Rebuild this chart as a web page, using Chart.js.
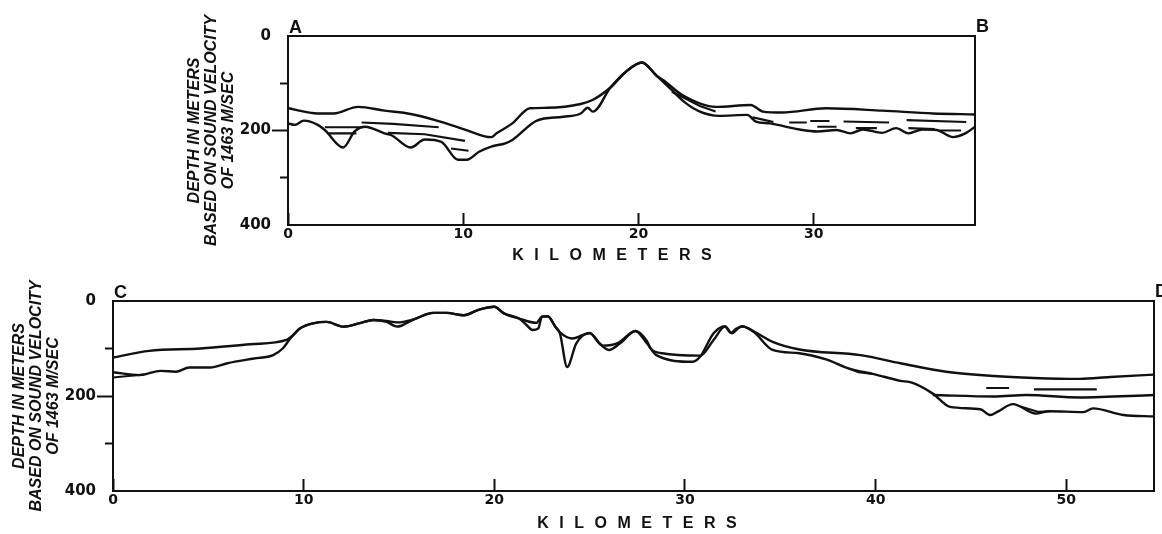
<!DOCTYPE html>
<html>
<head>
<meta charset="utf-8">
<script src="https://cdn.jsdelivr.net/npm/chart.js@4.4.1/dist/chart.umd.min.js"></script>
<style>
  html, body { margin: 0; padding: 0; background: #fff; }
  #wrap { position: relative; width: 1162px; height: 534px; overflow: hidden; }
  canvas { position: absolute; left: 0; }
  #chartAB { top: 0; }
  #chartCD { top: 262px; }
</style>
</head>
<body>
<div id="wrap">
  <canvas id="chartAB" width="1162" height="262"></canvas>
  <canvas id="chartCD" width="1162" height="272"></canvas>
</div>
<script>
// Eixos
const yTitleLines = ['DEPTH IN METERS', 'BASED ON SOUND VELOCITY', 'OF 1463 M/SEC'];
const xTitle = 'KILOMETERS';
const depthMajorTicks = [0, 200, 400];
const depthMinorTicks = [100, 300];
const abKmTicks = [0, 10, 20, 30];
const cdKmTicks = [0, 10, 20, 30, 40, 50];
const abKmMax = 39.2;
const cdKmMax = 54.6;

// Perfil A-B (km, profundidade em m)
const abUpperKm = [0, 1.7, 2.6, 4.0, 5.5, 7.0, 8.4, 10.1, 11.6, 11.9, 12.8, 13.8, 14.8, 16.7, 17.4, 18.4, 19.3, 20.2, 21.0, 21.4, 22.5, 24.4, 26.4, 27.1, 28.2, 30.7, 33.9, 36.8, 39.2];
const abUpperDepth = [153, 164, 164, 150, 158, 165, 178, 198, 214, 206, 185, 153, 152, 144, 135, 109, 75, 56, 83, 93, 125, 150, 146, 160, 162, 153, 158, 164, 166];

const abLowerKm = [0, 0.4, 0.9, 1.7, 2.1, 3.15, 3.8, 4.4, 5.5, 5.9, 7.0, 7.8, 8.75, 9.7, 10.2, 10.9, 11.6, 12.4, 12.8, 14.2, 15.7, 16.7, 17.1, 17.4, 18.4, 19.3, 20.2, 21.0, 21.8, 22.7, 23.5, 24.6, 26.2, 26.7, 27.5, 29.2, 30.2, 31.3, 32.1, 32.8, 33.9, 34.7, 35.4, 36.2, 37.0, 37.95, 38.7, 39.2];
const abLowerDepth = [185, 188, 179, 188, 199, 236, 202, 192, 206, 210, 236, 219, 224, 262, 262, 245, 234, 227, 220, 179, 171, 164, 152, 160, 109, 75, 56, 83, 111, 142, 160, 169, 167, 181, 185, 198, 202, 199, 206, 198, 205, 195, 206, 198, 199, 214, 205, 192];

// refletores curtos (null = interrupção)
const abReflector1Km = [2.1, 4.3, null, 4.2, 6.0, 8.6, null, 28.6, 29.6, null, 29.8, 30.9, null, 31.7, 34.3, null, 35.3, 38.7];
const abReflector1Depth = [193, 193, null, 183, 186, 193, null, 183, 183, null, 180, 180, null, 181, 183, null, 178, 182];
const abReflector2Km = [2.3, 3.9, null, 5.7, 7.8, 10.1, null, 9.3, 10.3, null, 30.2, 31.3, null, 32.4, 33.6, null, 35.4, 36.9, null, 37.2, 38.4];
const abReflector2Depth = [206, 206, null, 205, 208, 222, null, 238, 243, null, 192, 192, null, 195, 195, null, 195, 197, null, 200, 200];
const abLoopKm = [21.9, 22.4, 23.5, 24.4, null, 26.5, 27.1, 27.7];
const abLoopDepth = [118, 127, 148, 160, null, 172, 177, 182];

// Perfil C-D
const cdUpperKm = [0, 1.9, 4.6, 7.2, 9.1, 9.5, 9.8, 10.5, 11.2, 12.1, 13.0, 13.65, 14.35, 14.9, 15.75, 16.8, 17.5, 18.4, 19.2, 20.0, 20.5, 21.3, 22.2, 22.5, 22.8, 23.2, 23.44, 24.1, 25.0, 25.7, 26.5, 27.4, 28.0, 28.2, 28.8, 30.8, 31.5, 32.1, 32.4, 32.7, 33.05, 33.7, 34.6, 36.0, 39.2, 41.3, 43.7, 46.2, 48.3, 50.7, 52.3, 54.6];
const cdUpperDepth = [119, 105, 100, 91, 82, 70, 58, 47, 44, 54, 46, 40, 42, 45, 39, 25, 25, 30, 18, 12, 26, 37, 46, 33, 32, 54, 66, 79, 67, 94, 88, 63, 84, 100, 110, 115, 82, 54, 67, 58, 54, 66, 86, 102, 114, 131, 149, 158, 162, 164, 160, 155];

const cdLowerKm = [0, 1.4, 2.5, 3.3, 4.0, 5.1, 6.0, 7.4, 8.4, 8.9, 9.3, 9.8, 10.5, 11.2, 12.1, 13.0, 13.65, 14.35, 14.9, 15.75, 16.8, 17.5, 18.4, 19.2, 20.0, 20.5, 21.3, 21.7, 22.0, 22.3, 22.5, 22.8, 23.2, 23.44, 23.82, 24.3, 25.0, 25.5, 26.0, 26.6, 27.4, 28.0, 28.5, 30.4, 30.8, 31.5, 32.1, 32.45, 32.97, 33.6, 34.6, 36.0, 37.4, 38.65, 39.9, 41.3, 41.9, 43.0, 43.9, 45.5, 46.0, 46.4, 47.2, 48.4, 49.1, 50.9, 51.4, 53.0, 54.6];
const cdLowerDepth = [150, 156, 147, 149, 140, 140, 131, 121, 114, 100, 79, 58, 47, 44, 54, 46, 40, 44, 54, 39, 25, 25, 30, 18, 12, 26, 37, 51, 61, 58, 33, 32, 54, 68, 139, 89, 68, 89, 103, 89, 63, 89, 114, 128, 117, 68, 53, 68, 53, 65, 103, 110, 123, 143, 154, 168, 172, 195, 223, 228, 240, 233, 217, 237, 232, 234, 226, 240, 243];

const cdMiddleKm = [43.0, 46.2, 47.9, 50.7, 54.6];
const cdMiddleDepth = [198, 201, 198, 203, 198];

const cdFragmentKm = [0, 0.8, 1.6, null, 38.6, 39.1, 39.8, null, 47.6, 48.5, 49.2, null, 45.8, 47.0, null, 48.3, 51.6];
const cdFragmentDepth = [161, 158, 155, null, 142, 150, 153, null, 222, 233, 232, null, 183, 183, null, 186, 186];

const FONT = "'Liberation Sans', Arial, Helvetica, sans-serif";
const NUM_FONT = "'DejaVu Sans', Verdana, sans-serif";
const INK = '#111';

function toPoints(km, depth) {
    return km.map((x, i) => ({ x: x === null ? km[i - 1] : x, y: depth[i] }));
}

function line(km, depth, smooth) {
    return {
        data: toPoints(km, depth),
        borderColor: INK,
        borderWidth: smooth ? 2.4 : 2.1,
        pointRadius: 0,
        fill: false,
        spanGaps: false,
        cubicInterpolationMode: smooth ? 'monotone' : 'default',
        tension: smooth ? 0.4 : 0
    };
}

// moldura, letras dos perfis e título do eixo x
const extrasPlugin = {
    id: 'extras',
    afterDraw(chart, args, opts) {
        const { ctx, chartArea: a } = chart;
        ctx.save();
        ctx.strokeStyle = INK;
        ctx.lineWidth = 2;
        ctx.strokeRect(a.left, a.top, a.right - a.left, a.bottom - a.top);

        ctx.fillStyle = INK;
        ctx.font = 'bold 18px ' + FONT;
        ctx.textAlign = 'left';
        ctx.textBaseline = 'alphabetic';
        ctx.fillText(opts.leftLetter, a.left + 1, a.top - 3);
        ctx.fillText(opts.rightLetter, a.right + 1, a.top - 4);

        ctx.font = 'bold 16px ' + FONT;
        const w0 = ctx.measureText(xTitle).width;
        const total = w0 + (xTitle.length - 1) * opts.spacing;
        ctx.letterSpacing = opts.spacing + 'px';
        ctx.fillText(xTitle, opts.labelX - total / 2, opts.labelY);
        ctx.restore();
    }
};

function makeConfig(datasets, kmTicks, kmMax, padding, letters, labelX, labelY) {
    return {
        type: 'line',
        data: { datasets: datasets },
        plugins: [extrasPlugin],
        options: {
            responsive: false,
            animation: false,
            events: [],
            layout: { padding: padding },
            plugins: {
                legend: { display: false },
                tooltip: { enabled: false },
                extras: { leftLetter: letters[0], rightLetter: letters[1], labelX: labelX, labelY: labelY, spacing: 10.5 }
            },
            scales: {
                x: {
                    type: 'linear',
                    min: 0,
                    max: kmMax,
                    afterBuildTicks: s => { s.ticks = kmTicks.map(v => ({ value: v })); },
                    afterFit: s => { s.height = 30; },
                    ticks: { color: INK, padding: 13, maxRotation: 0, font: { family: NUM_FONT, size: 14, weight: 'bold' } },
                    grid: { drawOnChartArea: false, tickLength: -12, tickWidth: 2, tickColor: INK },
                    border: { display: false }
                },
                y: {
                    type: 'linear',
                    reverse: true,
                    min: 0,
                    max: 400,
                    weight: 1,
                    afterBuildTicks: s => { s.ticks = depthMajorTicks.map(v => ({ value: v })); },
                    afterFit: s => { s.width = 101.5; },
                    ticks: { color: INK, padding: 1, font: { family: NUM_FONT, size: 15, weight: 'bold' } },
                    grid: {
                        drawOnChartArea: false,
                        tickLength: 16,
                        tickWidth: 2,
                        tickColor: c => (c.tick && c.tick.value === 200) ? INK : 'rgba(0,0,0,0)'
                    },
                    border: { display: false },
                    title: {
                        display: true,
                        text: yTitleLines,
                        color: INK,
                        padding: 0,
                        font: { family: FONT, size: 16, weight: 'bold', style: 'italic', lineHeight: '17px' }
                    }
                },
                y2: {
                    type: 'linear',
                    position: 'left',
                    reverse: true,
                    min: 0,
                    max: 400,
                    weight: 0,
                    afterBuildTicks: s => { s.ticks = depthMinorTicks.map(v => ({ value: v })); },
                    afterFit: s => { s.width = 0; },
                    ticks: { display: false },
                    grid: { drawOnChartArea: false, tickLength: 8, tickWidth: 2, tickColor: INK },
                    border: { display: false }
                }
            }
        }
    };
}

const chartAB = new Chart(
    document.getElementById('chartAB'),
    makeConfig([
        line(abUpperKm, abUpperDepth, true),
        line(abLowerKm, abLowerDepth, true),
        line(abReflector1Km, abReflector1Depth, false),
        line(abReflector2Km, abReflector2Depth, false),
        line(abLoopKm, abLoopDepth, false)
    ], abKmTicks, abKmMax, { left: 186.5, right: 187, top: 36, bottom: 7 }, ['A', 'B'], 612, 260)
);

const chartCD = new Chart(
    document.getElementById('chartCD'),
    makeConfig([
        line(cdUpperKm, cdUpperDepth, true),
        line(cdLowerKm, cdLowerDepth, true),
        line(cdMiddleKm, cdMiddleDepth, true),
        line(cdFragmentKm, cdFragmentDepth, false)
    ], cdKmTicks, cdKmMax, { left: 11.5, right: 8, top: 39, bottom: 13 }, ['C', 'D'], 637, 266)
);
</script>
</body>
</html>
